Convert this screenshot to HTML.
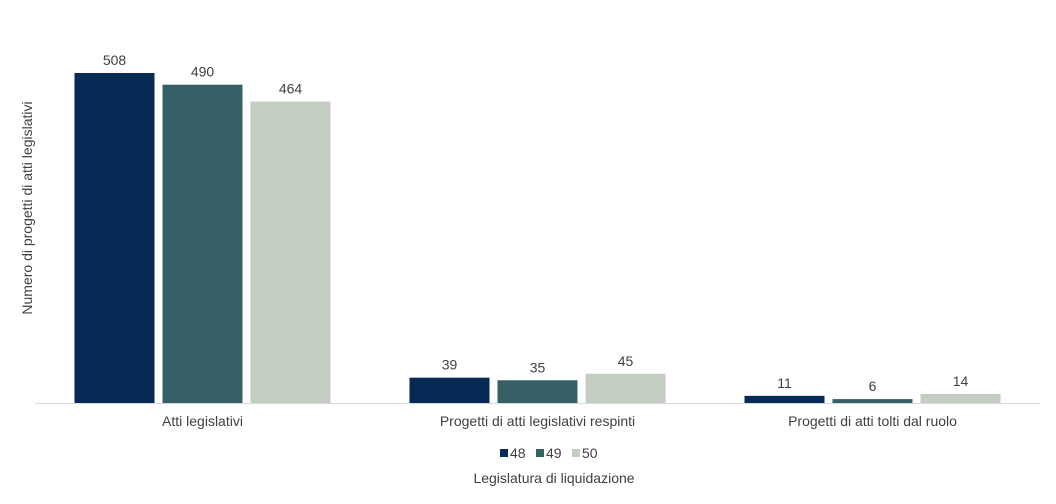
<!DOCTYPE html>
<html><head><meta charset="utf-8"><style>
body{margin:0;background:#fff;font-family:"Liberation Sans",sans-serif;}
svg text{font-family:"Liberation Sans",sans-serif;}
</style></head><body>
<svg id="c" width="1056" height="499"></svg>
<script>
const categories=["Atti legislativi","Progetti di atti legislativi respinti","Progetti di atti tolti dal ruolo"];
const seriesNames=["48","49","50"];
const s48=[508,39,11];
const s49=[490,35,6];
const s50=[464,45,14];
const colors=["#062a54","#356065","#c3cdc1"];
const NS="http://www.w3.org/2000/svg";
const svgEl=document.getElementById('c');
const xStart=35,xEnd=1040,base=403,yTop=73,maxV=508;
const yScale=v=>base-(v/maxV)*(base-yTop);
const gw=(xEnd-xStart)/categories.length;
function mk(t,a){const e=document.createElementNS(NS,t);for(const k in a)e.setAttribute(k,a[k]);svgEl.appendChild(e);return e;}
const axis=mk('line',{x1:xStart,x2:xEnd,y1:base+0.5,y2:base+0.5,stroke:'#d9d9d9'});


const series=[s48,s49,s50];
const bw=80,gap=8;
categories.forEach((c,i)=>{
  const cx=xStart+gw*(i+0.5);
  const startX=cx-(3*bw+2*gap)/2;
  series.forEach((s,j)=>{
    const bx=startX+j*(bw+gap);
    const r=mk('rect',{x:bx,y:yScale(s[i]),width:bw,height:base-yScale(s[i]),fill:colors[j]});
    
    
    const t=mk('text',{x:bx+bw/2,y:yScale(s[i])-8,'text-anchor':'middle','font-size':14,fill:'#404040'});
    t.textContent=s[i];
    
    
  });
  const l=mk('text',{x:cx,y:426,'text-anchor':'middle','font-size':14,fill:'#404040'});
  l.textContent=c;
  
  
});
const lx=[500,536,572];
seriesNames.forEach((n,j)=>{
  const r=mk('rect',{x:lx[j],y:449,width:8,height:8,fill:colors[j]});
  
  
  const t=mk('text',{x:lx[j]+10,y:458,'font-size':14,fill:'#404040'});
  t.textContent=n;
  
  
});
const xt=mk('text',{x:554,y:483,'text-anchor':'middle','font-size':14,fill:'#404040'});
xt.textContent="Legislatura di liquidazione";


const yt=mk('text',{x:0,y:0,'text-anchor':'middle','font-size':14,fill:'#404040',transform:'translate(32,208) rotate(-90)'});
yt.textContent="Numero di progetti di atti legislativi";


</script>
</body></html>
